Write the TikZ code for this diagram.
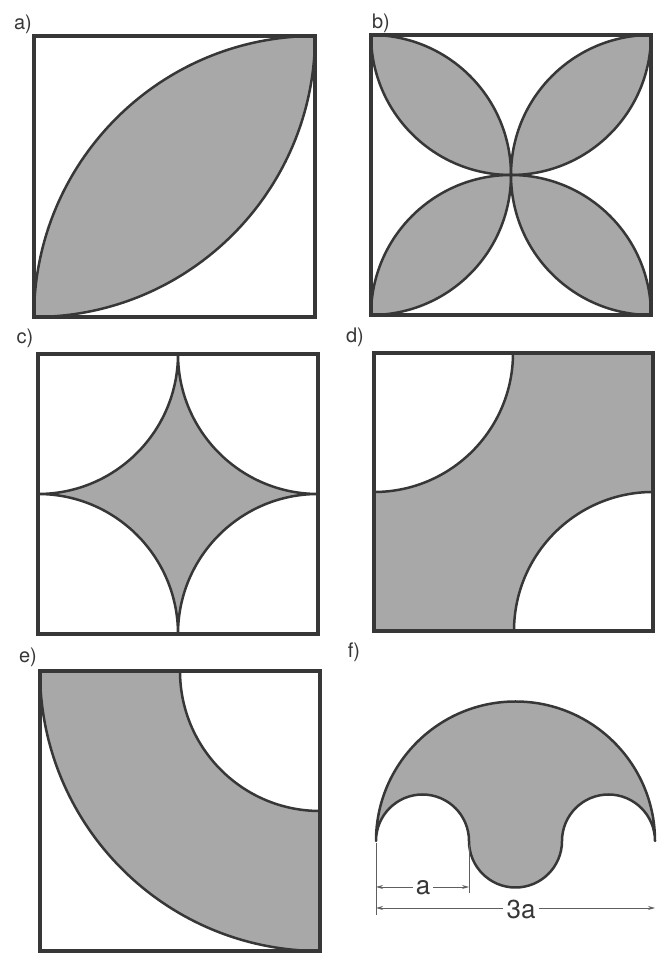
\documentclass[tikz,border=0pt]{standalone}
\usepackage{fontspec}
\setmainfont{TeX Gyre Heros}
\usetikzlibrary{arrows.meta}

\definecolor{inkgray}{RGB}{55,55,55}
\definecolor{areagray}{RGB}{168,168,168}

\begin{document}
\begin{tikzpicture}[
  x=1pt, y=1pt,
  frame/.style={draw=inkgray, line width=3.2pt},
  region/.style={fill=areagray, draw=inkgray, line width=2.5pt, line join=round},
  panel/.style={font=\fontsize{20}{22}\selectfont, text=inkgray},
  dimtext/.style={font=\fontsize{26}{28}\selectfont, text=inkgray, inner sep=3pt},
  dimline/.style={draw=inkgray!80, line width=0.9pt, -{Stealth[length=7pt, width=4pt]}},
  extline/.style={draw=inkgray!80, line width=0.9pt}
]
\useasboundingbox (0,0) rectangle (656,960);

\node[panel] (la) at (23,936) {a)};
\node[panel] (lb) at (381,937) {b)};
\node[panel] (lc) at (25,622) {c)};
\node[panel] (ld) at (355,623) {d)};
\node[panel] (le) at (28,303) {e)};
\node[panel] (lf) at (354,308) {f)};

% a)
\filldraw[region] (34,643) arc[start angle=180, end angle=90, radius=281]
  arc[start angle=0, end angle=-90, radius=281] -- cycle;
\draw[frame] (34,643) rectangle (315,924);

% b)
\filldraw[region] (371,925) arc[start angle=180, end angle=270, radius=140]
  arc[start angle=0, end angle=90, radius=140] -- cycle;
\filldraw[region] (651,925) arc[start angle=0, end angle=-90, radius=140]
  arc[start angle=180, end angle=90, radius=140] -- cycle;
\filldraw[region] (371,645) arc[start angle=180, end angle=90, radius=140]
  arc[start angle=0, end angle=-90, radius=140] -- cycle;
\filldraw[region] (651,645) arc[start angle=0, end angle=90, radius=140]
  arc[start angle=180, end angle=270, radius=140] -- cycle;
\draw[frame] (371,645) rectangle (651,925);

% c)
\filldraw[region] (178,606) arc[start angle=180, end angle=270, radius=140]
  arc[start angle=90, end angle=180, radius=140]
  arc[start angle=0, end angle=90, radius=140]
  arc[start angle=270, end angle=360, radius=140] -- cycle;
\draw[frame] (38,326) rectangle (318,606);

% d)
\filldraw[region] (513,607) -- (653,607) -- (653,468)
  arc[start angle=90, end angle=180, radius=139] -- (374,329) -- (374,468)
  arc[start angle=270, end angle=360, radius=139] -- cycle;
\draw[frame] (374,329) rectangle (653,607);

% e)
\filldraw[region] (40,289) arc[start angle=180, end angle=270, radius=280]
  -- (320,149) arc[start angle=270, end angle=180, radius=140] -- cycle;
\draw[frame] (40,9) rectangle (320,289);

% f)
\filldraw[region] (376,119) arc[start angle=180, end angle=0, radius=139.5]
  arc[start angle=0, end angle=180, radius=46.5]
  arc[start angle=0, end angle=-180, radius=46.5]
  arc[start angle=0, end angle=180, radius=46.5] -- cycle;

\coordinate (e1t) at (376,117);
\coordinate (e1b) at (376,45);
\coordinate (e2t) at (469,115);
\coordinate (e2b) at (469,67);
\coordinate (d1l) at (376,73);
\coordinate (d1r) at (469,73);
\coordinate (d2l) at (376,52);
\coordinate (d2r) at (655,52);
\draw[extline] (e1t) -- (e1b);
\draw[extline] (e2t) -- (e2b);

\node[dimtext] (ta) at (423,72) {a};
\node[dimtext] (t3a) at (521,51) {3a};
\draw[dimline] (ta.west |- d1l) -- (d1l);
\draw[dimline] (ta.east |- d1r) -- (d1r);
\draw[dimline] (t3a.west |- d2l) -- (d2l);
\draw[dimline] (t3a.east |- d2r) -- (d2r);
\end{tikzpicture}
\end{document}
